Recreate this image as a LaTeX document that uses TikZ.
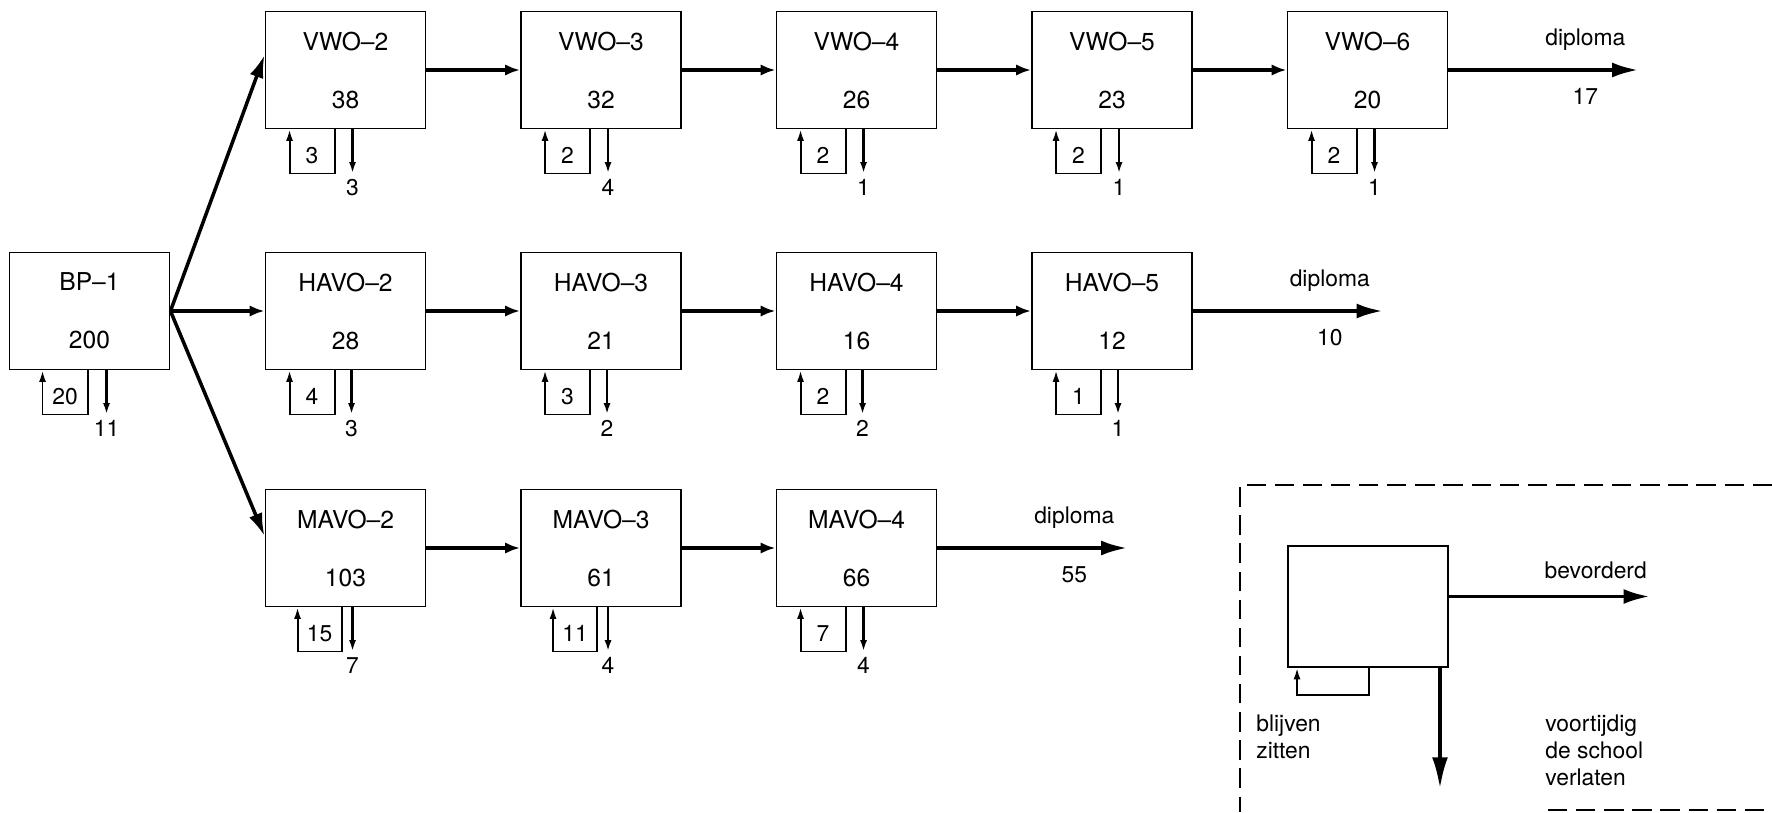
\documentclass[tikz,border=0pt]{standalone}
\usepackage{fontspec}
\setmainfont{TeX Gyre Heros}
\usetikzlibrary{calc,arrows.meta}

%ループと退学の矢印
\newcommand{\lus}[6]{%
  \coordinate (#1-l) at ($(#1.south west)+(#4,0)$);
  \coordinate (#1-r) at ($(#1.south west)+(#5,0)$);
  \coordinate (#1-u) at ($(#1.south west)+(#6,0)$);
  \draw[terug](#1-r)--++(0,44)-|(#1-l); %留年
  \node[getal](#1-n) at ($(#1-l)!.5!(#1-r)+(0,26)$){#2};
  \draw[weg](#1-u)--++(0,44)node[uit](#1-w){#3}; %退学
}

\begin{document}
\begin{tikzpicture}[x=0.2mm,y=-0.2mm,
  klas/.style={draw,line width=1.1pt,minimum width=32mm,minimum height=23.4mm,
    align=center,inner sep=0pt,font=\fontsize{14}{33}\selectfont},
  getal/.style={inner sep=0pt,font=\fontsize{13}{15}\selectfont},
  uit/.style={below=2.5pt,inner sep=0pt,font=\fontsize{13}{15}\selectfont},
  tekst/.style={inner sep=0pt,font=\fontsize{13}{15}\selectfont},
  door/.style={line width=1.8pt,-{Latex[length=8.5pt,width=6.5pt]}},
  waaier/.style={line width=2pt,-{Latex[length=13pt,width=8pt]}},
  diploma/.style={line width=2.2pt,-{Latex[length=15pt,width=8.5pt]}},
  terug/.style={line width=1.1pt,-{Latex[length=6.5pt,width=4pt]}},
  weg/.style={line width=1.5pt,-{Latex[length=6.5pt,width=4pt]}},
  kader/.style={line width=0.8pt,dash pattern=on 11pt off 5pt}]
\useasboundingbox(0,0)rectangle(1772,812);

%箱
\node[klas](bp1) at (89.5,311){BP--1\\200};
\node[klas](vwo2) at (345.5,70){VWO--2\\38};
\node[klas](vwo3) at (601,70){VWO--3\\32};
\node[klas](vwo4) at (856.5,70){VWO--4\\26};
\node[klas](vwo5) at (1112,70){VWO--5\\23};
\node[klas](vwo6) at (1367.5,70){VWO--6\\20};
\node[klas](havo2) at (345.5,311){HAVO--2\\28};
\node[klas](havo3) at (601,311){HAVO--3\\21};
\node[klas](havo4) at (856.5,311){HAVO--4\\16};
\node[klas](havo5) at (1112,311){HAVO--5\\12};
\node[klas](mavo2) at (345.5,548){MAVO--2\\103};
\node[klas](mavo3) at (601,548){MAVO--3\\61};
\node[klas](mavo4) at (856.5,548){MAVO--4\\66};

%分岐
\draw[waaier](bp1.east)--($(vwo2.west)+(0,-15)$);
\draw[door](bp1.east)--(havo2.west);
\draw[waaier](bp1.east)--($(mavo2.west)+(0,-12)$);

%進級
\draw[door](vwo2.east)--(vwo3.west);
\draw[door](vwo3.east)--(vwo4.west);
\draw[door](vwo4.east)--(vwo5.west);
\draw[door](vwo5.east)--(vwo6.west);
\draw[door](havo2.east)--(havo3.west);
\draw[door](havo3.east)--(havo4.west);
\draw[door](havo4.east)--(havo5.west);
\draw[door](mavo2.east)--(mavo3.west);
\draw[door](mavo3.east)--(mavo4.west);

%卒業
\draw[diploma](vwo6.east)--++(190,0)
  node[tekst,pos=.72,yshift=17pt]{diploma}node[tekst,pos=.72,yshift=-15pt]{17};
\draw[diploma](havo5.east)--++(190,0)
  node[tekst,pos=.72,yshift=17pt]{diploma}node[tekst,pos=.72,yshift=-15pt]{10};
\draw[diploma](mavo4.east)--++(190,0)
  node[tekst,pos=.72,yshift=17pt]{diploma}node[tekst,pos=.72,yshift=-15pt]{55};

%ループ
\lus{bp1}{20}{11}{34}{79}{98}
\lus{vwo2}{3}{3}{25}{70}{88}
\lus{vwo3}{2}{4}{25}{70}{88}
\lus{vwo4}{2}{1}{25}{70}{88}
\lus{vwo5}{2}{1}{25}{70}{88}
\lus{vwo6}{2}{1}{25}{70}{88}
\lus{havo2}{4}{3}{25}{70}{87}
\lus{havo3}{3}{2}{25}{70}{87}
\lus{havo4}{2}{2}{25}{70}{87}
\lus{havo5}{1}{1}{25}{70}{87}
\lus{mavo2}{15}{7}{33}{77}{88}
\lus{mavo3}{11}{4}{33}{77}{88}
\lus{mavo4}{7}{4}{25}{70}{88}

%凡例
\draw[kader](1772,485)--(1240,485)--(1240,812); %枠
\draw[kader](1548,810)--(1772,810); %枠下
\node[klas,minimum height=24.2mm](leg) at (1368,606.5){};
\draw[diploma]($(leg.east)+(0,-10)$)--++(201,0)
  node[tekst,pos=.73,yshift=15pt]{bevorderd};
\draw[terug]($(leg.south west)+(82,0)$)--++(0,27)-|($(leg.south west)+(10,0)$);
\draw[line width=2.2pt,-{Latex[length=18pt,width=9pt]}]($(leg.south east)+(-9,0)$)--++(0,121);
\node[tekst,anchor=north west,align=left,font=\fontsize{13}{15.6}\selectfont](blijven) at (1256,714){blijven\\zitten};
\node[tekst,anchor=north west,align=left,font=\fontsize{13}{15.6}\selectfont](voortijdig) at (1545,714){voortijdig\\de school\\verlaten};
\end{tikzpicture}
\end{document}
